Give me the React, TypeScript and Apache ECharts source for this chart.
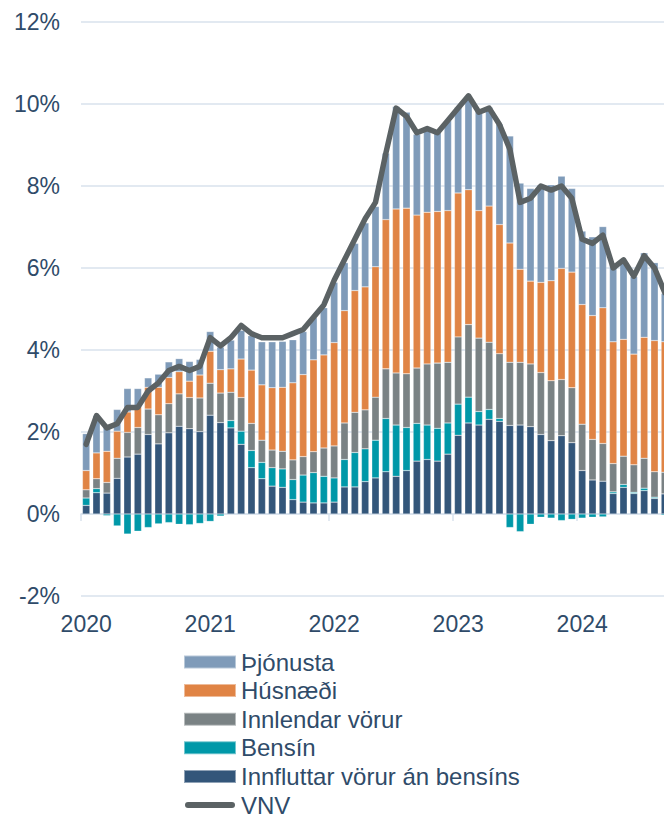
import React, { useEffect, useRef } from 'react';
import * as echarts from 'echarts';

const YEARS = ['2020', '2021', '2022', '2023', '2024'];
const MONTHS = ['01', '02', '03', '04', '05', '06', '07', '08', '09', '10', '11', '12'];
const categories = YEARS.flatMap((y) => MONTHS.map((m) => `${y}-${m}`));

// Contributions to 12-month inflation (%-points), Jan 2020 – Sep 2024
const innfluttar = [
  0.21, 0.52, 0.51, 0.87, 1.39, 1.46, 1.94, 1.71, 1.98, 2.14, 2.08, 2.01,
  2.41, 2.23, 2.10, 1.70, 1.13, 0.86, 0.68, 0.65, 0.35, 0.29, 0.27, 0.27,
  0.29, 0.66, 0.66, 0.79, 0.88, 1.03, 0.92, 1.06, 1.29, 1.33, 1.29, 1.46,
  1.92, 2.22, 2.17, 2.31, 2.26, 2.16, 2.17, 2.13, 1.94, 1.79, 1.91, 1.74,
  1.06, 0.83, 0.80, 0.50, 0.65, 0.50, 0.57, 0.38, 0.49,
];
const bensin = [
  0.18, 0.10, -0.04, -0.29, -0.49, -0.42, -0.33, -0.24, -0.21, -0.25, -0.26, -0.23,
  -0.18, -0.05, 0.18, 0.32, 0.42, 0.40, 0.45, 0.45, 0.49, 0.66, 0.74, 0.65,
  0.59, 0.67, 0.84, 0.80, 0.92, 1.30, 1.25, 1.05, 0.92, 0.84, 0.80, 0.76,
  0.76, 0.63, 0.33, 0.24, 0.07, -0.33, -0.43, -0.25, -0.08, -0.10, -0.16, -0.13,
  -0.10, -0.08, -0.07, 0.04, 0.07, 0.03, 0.06, 0.03, -0.03,
];
const innlendar = [
  0.20, 0.24, 0.26, 0.49, 0.60, 0.65, 0.62, 0.71, 0.71, 0.79, 0.76, 0.82,
  0.78, 0.72, 0.69, 0.82, 0.66, 0.54, 0.43, 0.43, 0.48, 0.45, 0.51, 0.69,
  0.78, 0.89, 0.98, 0.95, 1.05, 1.21, 1.27, 1.31, 1.35, 1.49, 1.59, 1.48,
  1.64, 1.77, 1.79, 1.64, 1.58, 1.54, 1.53, 1.53, 1.51, 1.46, 1.37, 1.34,
  1.13, 0.99, 0.92, 0.69, 0.69, 0.67, 0.73, 0.62, 0.53,
];
const husnaedi = [
  0.47, 0.63, 0.76, 0.66, 0.50, 0.52, 0.53, 0.67, 0.64, 0.54, 0.40, 0.56,
  0.78, 0.57, 0.57, 0.94, 1.30, 1.35, 1.52, 1.56, 1.88, 2.00, 2.24, 2.27,
  2.52, 2.74, 2.97, 3.00, 3.18, 3.64, 4.00, 4.04, 3.73, 3.70, 3.70, 3.70,
  3.51, 3.29, 3.11, 3.32, 3.15, 2.91, 2.27, 2.02, 2.20, 2.44, 2.71, 2.82,
  2.92, 3.02, 3.31, 2.97, 2.85, 2.70, 2.95, 3.20, 3.18,
];
const thjonusta = [
  0.90, 0.91, 0.59, 0.53, 0.57, 0.43, 0.23, 0.32, 0.38, 0.32, 0.48, 0.38,
  0.48, 0.55, 0.70, 0.70, 0.84, 1.05, 1.12, 1.12, 1.05, 1.05, 1.03, 1.15,
  1.47, 1.17, 1.15, 1.56, 1.47, 1.62, 2.50, 2.34, 1.97, 1.99, 1.92, 2.19,
  2.09, 2.25, 2.44, 2.41, 2.45, 2.61, 2.10, 2.26, 2.38, 2.34, 2.25, 2.04,
  1.79, 1.92, 1.98, 1.88, 1.94, 1.89, 2.06, 1.90, 1.18,
];
const vnv = [
  1.7, 2.4, 2.1, 2.2, 2.6, 2.6, 3.0, 3.2, 3.5, 3.6, 3.5, 3.6,
  4.3, 4.1, 4.3, 4.6, 4.4, 4.3, 4.3, 4.3, 4.4, 4.5, 4.8, 5.1,
  5.7, 6.2, 6.7, 7.2, 7.6, 8.8, 9.9, 9.7, 9.3, 9.4, 9.3, 9.6,
  9.9, 10.2, 9.8, 9.9, 9.5, 8.9, 7.6, 7.7, 8.0, 7.9, 8.0, 7.7,
  6.7, 6.6, 6.8, 6.0, 6.2, 5.8, 6.3, 6.0, 5.4,
];

const TEXT = '#2f4b69';
const GRID = '#d8e2ec';
const FONT = '"Liberation Sans", Arial, sans-serif';

const COLORS = {
  thjonusta: '#7f9bb9',
  husnaedi: '#e08445',
  innlendar: '#7a8284',
  bensin: '#0098a8',
  innfluttar: '#33567a',
  vnv: '#5b6264',
};

export default function App() {
  const ref = useRef<HTMLDivElement>(null);

  useEffect(() => {
    if (!ref.current) return;
    const chart = echarts.init(ref.current, null, { renderer: 'svg' });
    const barBase = {
      type: 'bar' as const,
      stack: 'total',
      barWidth: 7.4,
      itemStyle: { borderColor: 'rgba(255,255,255,0.45)', borderWidth: 0.5 },
      emphasis: { disabled: true },
    };
    chart.setOption({
      animation: false,
      textStyle: { fontFamily: FONT },
      grid: { left: 81, right: 0, top: 22, bottom: 221 },
      legend: {
        orient: 'vertical',
        left: 178,
        top: 645,
        height: 220,
        itemWidth: 52,
        itemHeight: 13,
        itemGap: 4.6,
        textStyle: { fontSize: 24, color: TEXT, fontFamily: FONT },
        data: [
          { name: 'Þjónusta', icon: 'rect' },
          { name: 'Húsnæði', icon: 'rect' },
          { name: 'Innlendar vörur', icon: 'rect' },
          { name: 'Bensín', icon: 'rect' },
          { name: 'Innfluttar vörur án bensíns', icon: 'rect' },
          {
            name: 'VNV',
            icon: 'path://M0,0M52,13M4,3.5H48A3,3,0,0,1,48,9.5H4A3,3,0,0,1,4,3.5Z',
            itemStyle: { color: COLORS.vnv, borderWidth: 0 },
          },
        ],
      },
      xAxis: [
        {
          type: 'category',
          data: categories,
          position: 'bottom',
          axisLine: { show: false, onZero: false },
          axisTick: { show: false },
          axisLabel: {
            interval: 11,
            formatter: (v: string) => v.slice(0, 4),
            fontSize: 23,
            color: TEXT,
            margin: 16,
            fontFamily: FONT,
          },
          splitLine: { show: false },
        },
        {
          type: 'category',
          data: categories,
          position: 'bottom',
          axisLine: { show: true, onZero: true, onZeroAxisIndex: 0, lineStyle: { color: GRID, width: 1.5 } },
          axisTick: { show: true, interval: 11, length: 7, lineStyle: { color: GRID, width: 1.5 } },
          axisLabel: { show: false },
          splitLine: { show: false },
        },
      ],
      yAxis: {
        type: 'value',
        min: -2,
        max: 12,
        interval: 2,
        axisLine: { show: false },
        axisTick: { show: false },
        axisLabel: { formatter: '{value}%', fontSize: 23, color: TEXT, margin: 21, fontFamily: FONT },
        splitLine: { lineStyle: { color: GRID, width: 1.5 } },
      },
      series: [
        { ...barBase, name: 'Innfluttar vörur án bensíns', data: innfluttar, itemStyle: { ...barBase.itemStyle, color: COLORS.innfluttar } },
        { ...barBase, name: 'Bensín', data: bensin, itemStyle: { ...barBase.itemStyle, color: COLORS.bensin } },
        { ...barBase, name: 'Innlendar vörur', data: innlendar, itemStyle: { ...barBase.itemStyle, color: COLORS.innlendar } },
        { ...barBase, name: 'Húsnæði', data: husnaedi, itemStyle: { ...barBase.itemStyle, color: COLORS.husnaedi } },
        { ...barBase, name: 'Þjónusta', data: thjonusta, itemStyle: { ...barBase.itemStyle, color: COLORS.thjonusta } },
        {
          type: 'line',
          name: 'VNV',
          data: vnv,
          symbol: 'none',
          z: 10,
          itemStyle: { color: COLORS.vnv },
          lineStyle: { color: COLORS.vnv, width: 5.5, cap: 'round', join: 'round' },
          emphasis: { disabled: true },
        },
      ],
    });
    return () => chart.dispose();
  }, []);

  return (
    <div style={{ position: 'fixed', left: 0, top: 0, width: 664, height: 817, overflow: 'hidden', background: '#fff' }}>
      <div ref={ref} style={{ width: 701, height: 817 }} />
    </div>
  );
}
